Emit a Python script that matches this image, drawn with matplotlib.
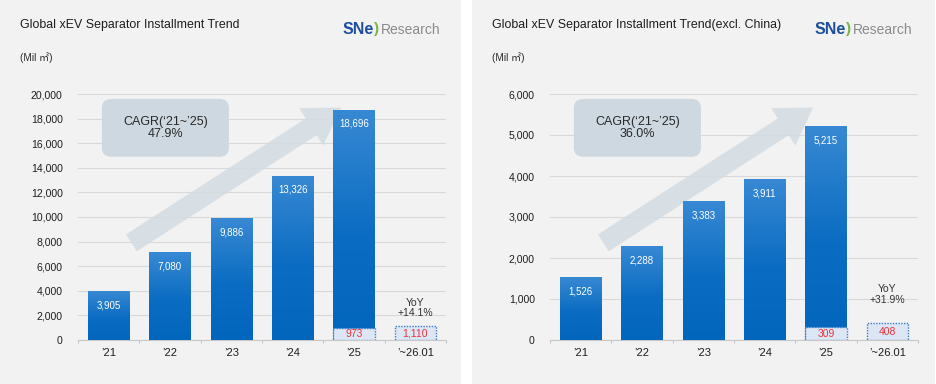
import numpy as np
import matplotlib.pyplot as plt
from matplotlib.patches import Rectangle, FancyBboxPatch
from matplotlib.colors import LinearSegmentedColormap

#------------------------ datos ----------------------------

years = ["\u201921", "\u201922", "\u201923", "\u201924", "\u201925", "\u2019~26.01"]

global_vals = [3905, 7080, 9886, 13326, 18696]
global_jan = [973, 1110]          # enero '25 y enero '26
excl_vals = [1526, 2288, 3383, 3911, 5215]
excl_jan = [309, 408]

titles = ["Global xEV Separator Installment Trend",
          "Global xEV Separator Installment Trend(excl. China)"]
cagr = ["47.9%", "36.0%"]
yoy = ["+14.1%", "+31.9%"]
ymax = [20000, 6000]
ystep = [2000, 1000]

#------------------------ estilos ----------------------------

FONT = ["Liberation Sans", "Noto Sans CJK KR", "DejaVu Sans"]
plt.rcParams["font.family"] = FONT

W, H = 936, 384
bar_cmap = LinearSegmentedColormap.from_list(
    "barra", [(0.0, "#0366bd"), (0.45, "#0a6cc2"), (1.0, "#3889d3")])
grad = np.linspace(0, 1, 256).reshape(-1, 1)


def px(x, y):
    return x / W, 1 - y / H


def panel(fig, left, vals, jan, title, cagr_txt, yoy_txt, top, step, yoy_y):
    # fondo gris del panel
    x0 = left - 78
    pw = 461 if left == 78 else W - 473
    fig.patches.append(Rectangle((x0 / W, 0), pw / W, 1, transform=fig.transFigure,
                                 facecolor="#f2f2f2", edgecolor="none", zorder=-5))

    ax = fig.add_axes([left / W, 44 / H, 368 / W, 246 / H])
    ax.patch.set_visible(False)

    xs = np.arange(len(years))
    bw = 0.67

    # barras con degradado
    for x, v in zip(xs[:len(vals)], vals):
        ax.imshow(grad, cmap=bar_cmap, origin="lower", aspect="auto",
                  extent=[x - bw / 2, x + bw / 2, 0, v], zorder=3)
        ax.annotate(f"{v:,}", (x, v), xytext=(0, -10), textcoords="offset points",
                    ha="center", va="center", color="white", fontsize=7, zorder=5)

    # cajas de enero
    jx = [len(vals) - 1, len(vals)]
    ax.bar(jx, jan, width=bw, color="#dce6f4", edgecolor="#3d7fc9",
           linewidth=1, linestyle=(0, (1, 1)), zorder=4)
    for x, v in zip(jx, jan):
        ax.text(x, v / 2, f"{v:,}", ha="center", va="center", color="#e8333a",
                fontsize=7.5, zorder=5)

    ax.text(jx[1], top * yoy_y, "YoY\n" + yoy_txt, ha="center", va="center",
            fontsize=7.5, color="#333333", linespacing=1.1, zorder=5)

    # flecha de tendencia
    ax.annotate("", xy=(0.715, 0.945), xytext=(0.145, 0.395),
                xycoords="axes fraction", textcoords="axes fraction",
                arrowprops=dict(arrowstyle="simple,head_length=1.6,head_width=2.0,tail_width=0.9",
                                mutation_scale=16, fc="#d3dbe2", ec="none", alpha=0.85,
                                shrinkA=0, shrinkB=0),
                zorder=2)

    # caja CAGR
    ax.add_patch(FancyBboxPatch((0.065, 0.745), 0.345, 0.235,
                                boxstyle="round,pad=0,rounding_size=0.025",
                                mutation_aspect=1.5, transform=ax.transAxes,
                                fc="#cdd8e0", ec="none", zorder=2.5))
    ax.text(0.2375, 0.862, "CAGR(\u201821~\u201925)\n" + cagr_txt, transform=ax.transAxes,
            ha="center", va="center", fontsize=9, color="#2a2a2a", linespacing=1.05,
            zorder=5)

    # ejes
    ax.set_xlim(-0.5, len(years) - 0.5)
    ax.set_ylim(0, top)
    ax.set_yticks(np.arange(0, top + 1, step))
    ax.set_yticklabels([f"{t:,}" for t in range(0, top + 1, step)])
    ax.set_xticks(xs)
    ax.set_xticklabels(years)
    ax.set_xticks(np.arange(-0.5, len(years)), minor=True)
    ax.tick_params(axis="y", length=0, pad=11, labelsize=7.6, labelcolor="#1e1e1e")
    ax.tick_params(axis="x", which="major", length=0, pad=6, labelsize=8,
                   labelcolor="#1e1e1e")
    ax.tick_params(axis="x", which="minor", length=2.5, color="#c8c8c8", width=0.8)
    ax.grid(axis="y", color="#d9d9d9", linewidth=0.8, zorder=0)
    ax.set_axisbelow(True)
    for s in ["left", "right", "top"]:
        ax.spines[s].set_visible(False)
    ax.spines["bottom"].set_color("#c8c8c8")
    ax.spines["bottom"].set_linewidth(0.8)

    # textos del panel
    tx = x0 + 20
    fig.text(*px(tx, 25), title, ha="left", va="center", fontsize=8.9, color="#1e1e1e")
    fig.text(*px(tx, 58), "(Mil \u33a1)", ha="left", va="center", fontsize=7.2,
             color="#2a2a2a")

    # logo
    lx = x0 + 343
    fig.text(*px(lx, 30), "SNe", ha="left", va="center", fontsize=11.5,
             fontweight="bold", color="#1d4f9e")
    fig.text(*px(lx + 31, 29), ")", ha="left", va="center", fontsize=11,
             fontweight="bold", color="#7bb547")
    fig.text(*px(lx + 38, 30), "Research", ha="left", va="center", fontsize=10,
             color="#8a8a8a")
    return ax


#-------------------------- Grafico ------------------------------

fig = plt.figure(figsize=(W / 100, H / 100), dpi=100)
fig.patch.set_facecolor("white")

panel(fig, 78, global_vals, global_jan, titles[0], cagr[0], yoy[0], ymax[0], ystep[0], 0.13)
panel(fig, 550, excl_vals, excl_jan, titles[1], cagr[1], yoy[1], ymax[1], ystep[1], 0.186)

fig.savefig("out.png", dpi=100)
